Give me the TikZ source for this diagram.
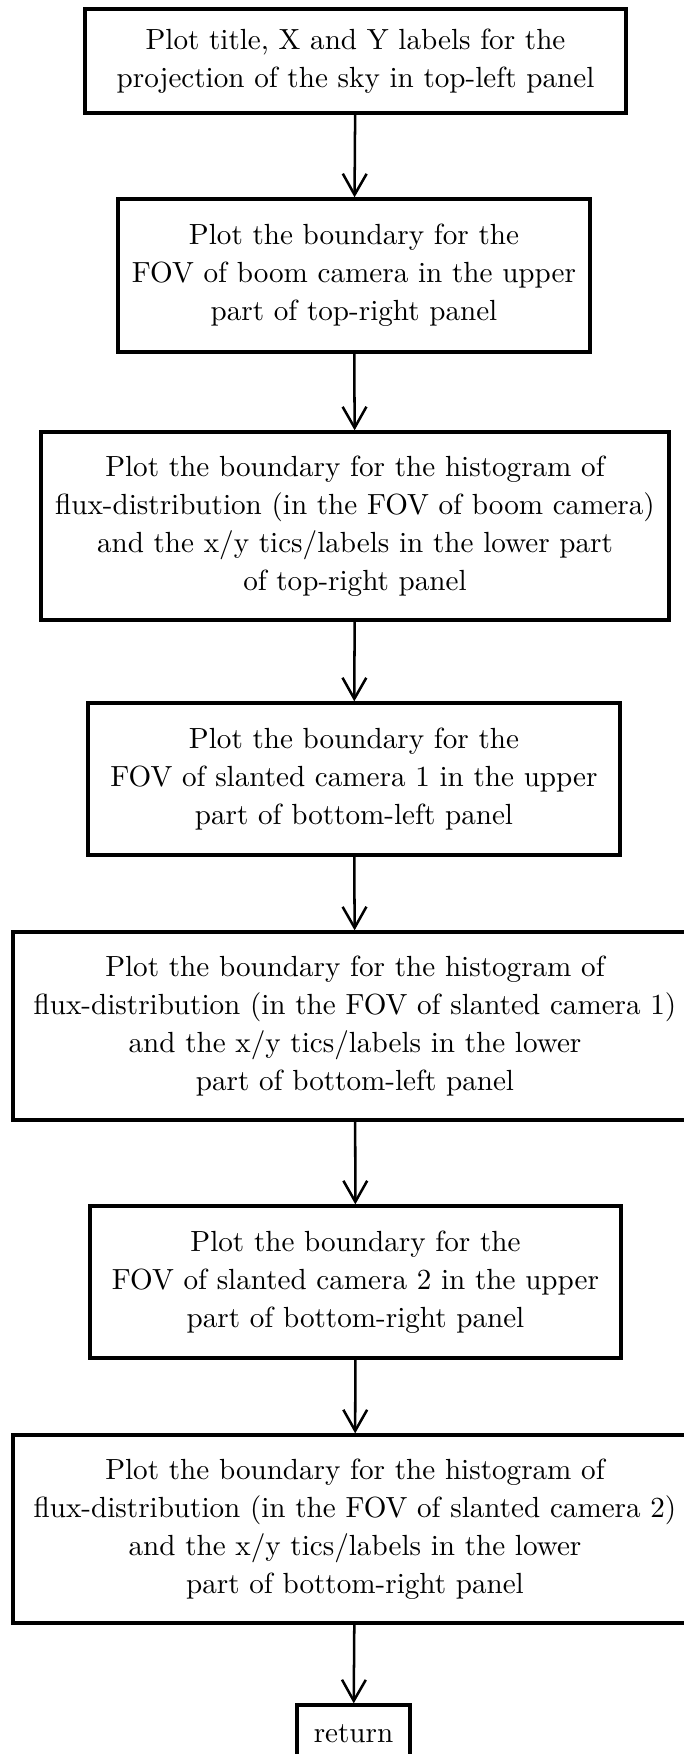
\documentclass[tikz,border=0pt]{standalone}
\usetikzlibrary{arrows.meta}
\begin{document}
\begin{tikzpicture}[x=0.357pt,y=-0.357pt,
  procbox/.style={draw, line width=1.2pt, align=center, inner sep=0pt,
    font=\fontsize{10.4}{13.5}\selectfont},
  flow/.style={line width=0.9pt, -{Straight Barb[length=7.5pt,width=8.5pt]}}]
\useasboundingbox (0,0) rectangle (684,1754);
\node[procbox, minimum width=541*0.357pt, minimum height=104*0.357pt] (b1) at (355.5,61)
  {Plot title, X and Y labels for the\\projection of the sky in top-left panel};
\node[procbox, minimum width=472*0.357pt, minimum height=153*0.357pt] (b2) at (354,275.5)
  {Plot the boundary for the\\FOV of boom camera in the upper\\part of top-right panel};
\node[procbox, minimum width=628*0.357pt, minimum height=188*0.357pt] (b3) at (355,526)
  {Plot the boundary for the histogram of\\flux-distribution (in the FOV of boom camera)\\and the x/y tics/labels in the lower part\\of top-right panel};
\node[procbox, minimum width=532*0.357pt, minimum height=152*0.357pt] (b4) at (354,779)
  {Plot the boundary for the\\FOV of slanted camera 1 in the upper\\part of bottom-left panel};
\node[procbox, minimum width=684*0.357pt, minimum height=188*0.357pt] (b5) at (355,1026)
  {Plot the boundary for the histogram of\\flux-distribution (in the FOV of slanted camera 1)\\and the x/y tics/labels in the lower\\part of bottom-left panel};
\node[procbox, minimum width=531*0.357pt, minimum height=152*0.357pt] (b6) at (355.5,1282)
  {Plot the boundary for the\\FOV of slanted camera 2 in the upper\\part of bottom-right panel};
\node[procbox, minimum width=684*0.357pt, minimum height=188*0.357pt] (b7) at (355,1529)
  {Plot the boundary for the histogram of\\flux-distribution (in the FOV of slanted camera 2)\\and the x/y tics/labels in the lower\\part of bottom-right panel};
\node[procbox, minimum width=113*0.357pt, minimum height=58*0.357pt] (ret) at (353.5,1734)
  {return};
\draw[flow] (b1) -- (b2);
\draw[flow] (b2) -- (b3);
\draw[flow] (b3) -- (b4);
\draw[flow] (b4) -- (b5);
\draw[flow] (b5) -- (b6);
\draw[flow] (b6) -- (b7);
\draw[flow] (b7) -- (ret);
\end{tikzpicture}
\end{document}
